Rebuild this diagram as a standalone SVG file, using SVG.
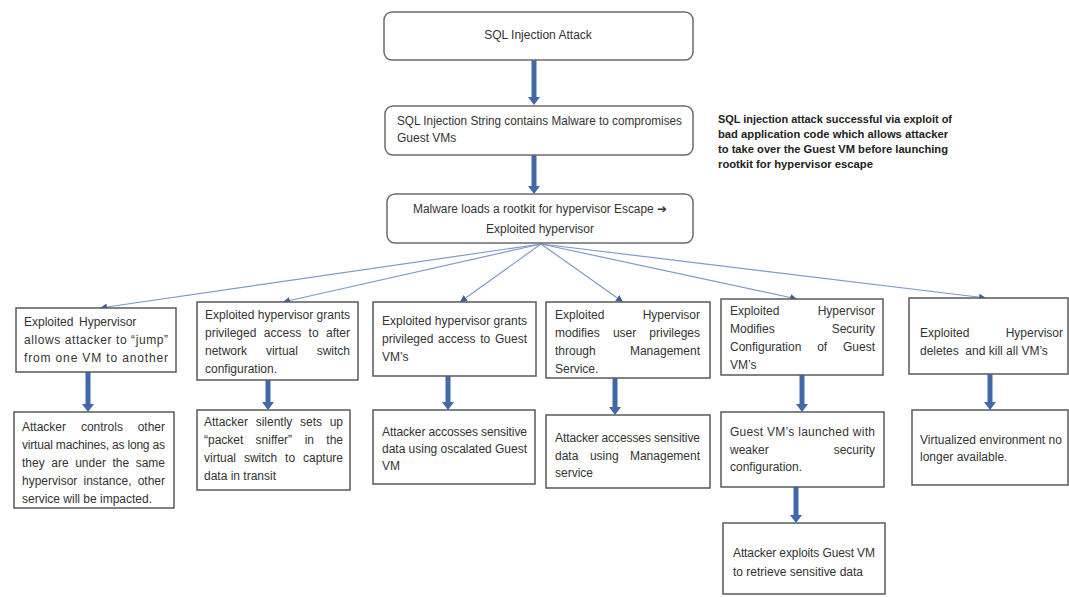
<svg xmlns="http://www.w3.org/2000/svg" width="1069" height="597" viewBox="0 0 1069 597">
<style>
.t{font-family:"Liberation Sans","DejaVu Sans",sans-serif;font-size:12px;fill:#333}
.s{font-family:"Liberation Sans","DejaVu Sans",sans-serif;font-size:11px;font-weight:bold;fill:#222}
.e{text-anchor:end}
.m{text-anchor:middle}
.b{fill:#fff;stroke:#5a5a5a;stroke-width:1.5}
.r{fill:#fff;stroke:#6b6b6b;stroke-width:1.5}
.thick{stroke:#4068ab;stroke-width:5;fill:none;marker-end:url(#ah)}
.fan{stroke:#7f9bc9;stroke-width:1.2;fill:none;marker-end:url(#fh)}
</style>
<defs>
<marker id="ah" markerUnits="userSpaceOnUse" markerWidth="8" markerHeight="12" viewBox="0 0 8 12" refX="2" refY="6" orient="auto"><path d="M0,0 L8,6 L0,12 z" fill="#4068ab"/></marker>
<marker id="fh" markerUnits="userSpaceOnUse" markerWidth="7" markerHeight="7" viewBox="0 0 7 7" refX="7" refY="3.5" orient="auto"><path d="M0,0 L7,3.5 L0,7 z" fill="#3f5f9c"/></marker>
</defs>
<rect width="1069" height="597" fill="#fff"/>

<g id="connectors">
<line class="thick" x1="534" y1="60" x2="534" y2="99"/>
<line class="thick" x1="534" y1="155" x2="534" y2="188"/>
<line class="fan" x1="541" y1="244" x2="100" y2="308"/>
<line class="fan" x1="541" y1="244" x2="283" y2="302"/>
<line class="fan" x1="541" y1="244" x2="460" y2="302"/>
<line class="fan" x1="541" y1="244" x2="623" y2="302"/>
<line class="fan" x1="541" y1="244" x2="797" y2="299"/>
<line class="fan" x1="541" y1="244" x2="986" y2="298"/>
<line class="thick" x1="88" y1="372" x2="88" y2="406"/>
<line class="thick" x1="268" y1="380" x2="268" y2="404"/>
<line class="thick" x1="448" y1="376" x2="448" y2="404"/>
<line class="thick" x1="615" y1="378" x2="615" y2="409"/>
<line class="thick" x1="802" y1="375" x2="802" y2="406"/>
<line class="thick" x1="796" y1="487" x2="796" y2="517"/>
<line class="thick" x1="990" y1="374" x2="990" y2="404"/>
</g>

<g id="n-sql">
<rect class="r" x="384" y="12" width="309" height="48" rx="8"/>
<text class="t m" x="538" y="39">SQL Injection Attack</text>
</g>

<g id="n-string">
<rect class="r" x="385" y="106" width="308" height="49" rx="8"/>
<text class="t" x="397" y="125" textLength="285" lengthAdjust="spacingAndGlyphs">SQL Injection String contains Malware to compromises</text>
<text class="t" x="397" y="142">Guest VMs</text>
</g>

<g id="n-rootkit">
<rect class="r" x="387" y="194" width="306" height="49" rx="8"/>
<text class="t m" x="540" y="213" textLength="254" lengthAdjust="spacingAndGlyphs">Malware loads a rootkit for hypervisor Escape ➔</text>
<text class="t m" x="540" y="233">Exploited hypervisor</text>
</g>

<g id="n-note">
<text class="s" x="718" y="123" textLength="234" lengthAdjust="spacingAndGlyphs">SQL injection attack successful via exploit of</text>
<text class="s" x="718" y="138" textLength="230" lengthAdjust="spacingAndGlyphs">bad application  code which allows attacker</text>
<text class="s" x="718" y="153" textLength="230" lengthAdjust="spacingAndGlyphs">to take over the Guest VM before launching</text>
<text class="s" x="718" y="168" textLength="155" lengthAdjust="spacingAndGlyphs">rootkit for hypervisor escape</text>
</g>

<g id="n-jump">
<rect class="b" x="16" y="308" width="160" height="64"/>
<text class="t" x="24" y="326">Exploited</text><text class="t" x="79" y="326">Hypervisor</text>
<text class="t" x="24" y="344" textLength="144" lengthAdjust="spacing">allows attacker to “jump”</text>
<text class="t" x="24" y="362" textLength="144" lengthAdjust="spacing">from one VM to another</text>
</g>

<g id="n-switch">
<rect class="b" x="197" y="302" width="161" height="78"/>
<text class="t" x="205" y="319" textLength="145" lengthAdjust="spacing">Exploited hypervisor grants</text>
<text class="t" x="205" y="337">privileged</text><text class="t" x="263.8" y="337">access</text><text class="t" x="308.6" y="337">to</text><text class="t e" x="350" y="337">after</text>
<text class="t" x="205" y="355">network</text><text class="t" x="265.9" y="355">virtual</text><text class="t e" x="350" y="355">switch</text>
<text class="t" x="205" y="373">configuration.</text>
</g>

<g id="n-guest">
<rect class="b" x="373" y="302" width="163" height="74"/>
<text class="t" x="382" y="325" textLength="145" lengthAdjust="spacing">Exploited hypervisor grants</text>
<text class="t" x="382" y="343">privileged</text><text class="t" x="438.1" y="343">access</text><text class="t" x="480.2" y="343">to</text><text class="t e" x="527" y="343">Guest</text>
<text class="t" x="382" y="361">VM’s</text>
</g>

<g id="n-mgmt">
<rect class="b" x="546" y="302" width="164" height="76"/>
<text class="t" x="555" y="319">Exploited</text><text class="t e" x="700" y="319">Hypervisor</text>
<text class="t" x="555" y="337">modifies</text><text class="t" x="612.9" y="337">user</text><text class="t e" x="700" y="337">privileges</text>
<text class="t" x="555" y="355">through</text><text class="t e" x="700" y="355">Management</text>
<text class="t" x="555" y="373">Service.</text>
</g>

<g id="n-security">
<rect class="b" x="721" y="299" width="162" height="76"/>
<text class="t" x="730" y="315">Exploited</text><text class="t e" x="875" y="315">Hypervisor</text>
<text class="t" x="730" y="333">Modifies</text><text class="t e" x="875" y="333">Security</text>
<text class="t" x="730" y="351">Configuration</text><text class="t" x="817.2" y="351">of</text><text class="t e" x="875" y="351">Guest</text>
<text class="t" x="730" y="369">VM’s</text>
</g>

<g id="n-delete">
<rect class="b" x="909" y="298" width="159" height="76"/>
<text class="t" x="920" y="337">Exploited</text><text class="t e" x="1063" y="337">Hypervisor</text>
<text class="t" x="920" y="355" xml:space="preserve">deletes  and kill all VM’s</text>
</g>

<g id="n-controls">
<rect class="b" x="14" y="412" width="160" height="96"/>
<text class="t" x="22" y="431">Attacker</text><text class="t" x="80.9" y="431">controls</text><text class="t e" x="165" y="431">other</text>
<text class="t" x="22" y="449" textLength="143" lengthAdjust="spacing">virtual machines, as long as</text>
<text class="t" x="22" y="467">they</text><text class="t" x="51.3" y="467">are</text><text class="t" x="75.2" y="467">under</text><text class="t" x="112.5" y="467">the</text><text class="t e" x="165" y="467">same</text>
<text class="t" x="22" y="485">hypervisor</text><text class="t" x="83.5" y="485">instance,</text><text class="t e" x="165" y="485">other</text>
<text class="t" x="22" y="503">service will be impacted.</text>
</g>

<g id="n-sniffer">
<rect class="b" x="197" y="410" width="153" height="80"/>
<text class="t" x="204" y="426">Attacker</text><text class="t" x="255.7" y="426">silently</text><text class="t" x="300" y="426">sets</text><text class="t e" x="343" y="426">up</text>
<text class="t" x="204" y="444">“packet</text><text class="t" x="255.6" y="444">sniffer”</text><text class="t" x="304.7" y="444">in</text><text class="t e" x="343" y="444">the</text>
<text class="t" x="204" y="462">virtual</text><text class="t" x="243.9" y="462">switch</text><text class="t" x="285.1" y="462">to</text><text class="t e" x="343" y="462">capture</text>
<text class="t" x="204" y="480">data in transit</text>
</g>

<g id="n-escalated">
<rect class="b" x="373" y="410" width="162" height="74"/>
<text class="t" x="382" y="436" textLength="145" lengthAdjust="spacing">Attacker accosses sensitive</text>
<text class="t" x="382" y="453" textLength="145" lengthAdjust="spacing">data using oscalated Guest</text>
<text class="t" x="382" y="470">VM</text>
</g>

<g id="n-mgmtdata">
<rect class="b" x="546" y="415" width="164" height="73"/>
<text class="t" x="555" y="442" textLength="145" lengthAdjust="spacing">Attacker accesses sensitive</text>
<text class="t" x="555" y="460">data</text><text class="t" x="589.9" y="460">using</text><text class="t e" x="700" y="460">Management</text>
<text class="t" x="555" y="477">service</text>
</g>

<g id="n-weaker">
<rect class="b" x="721" y="412" width="163" height="75"/>
<text class="t" x="730" y="436" textLength="145" lengthAdjust="spacing">Guest VM’s launched with</text>
<text class="t" x="730" y="454">weaker</text><text class="t e" x="875" y="454">security</text>
<text class="t" x="730" y="471">configuration.</text>
</g>

<g id="n-retrieve">
<rect class="b" x="723" y="523" width="162" height="71"/>
<text class="t" x="733" y="557" textLength="142" lengthAdjust="spacing">Attacker exploits Guest VM</text>
<text class="t" x="733" y="576" textLength="130" lengthAdjust="spacing">to retrieve sensitive data</text>
</g>

<g id="n-unavailable">
<rect class="b" x="912" y="410" width="156" height="75"/>
<text class="t" x="920" y="444">Virtualized environment no</text>
<text class="t" x="920" y="461">longer available.</text>
</g>
</svg>
